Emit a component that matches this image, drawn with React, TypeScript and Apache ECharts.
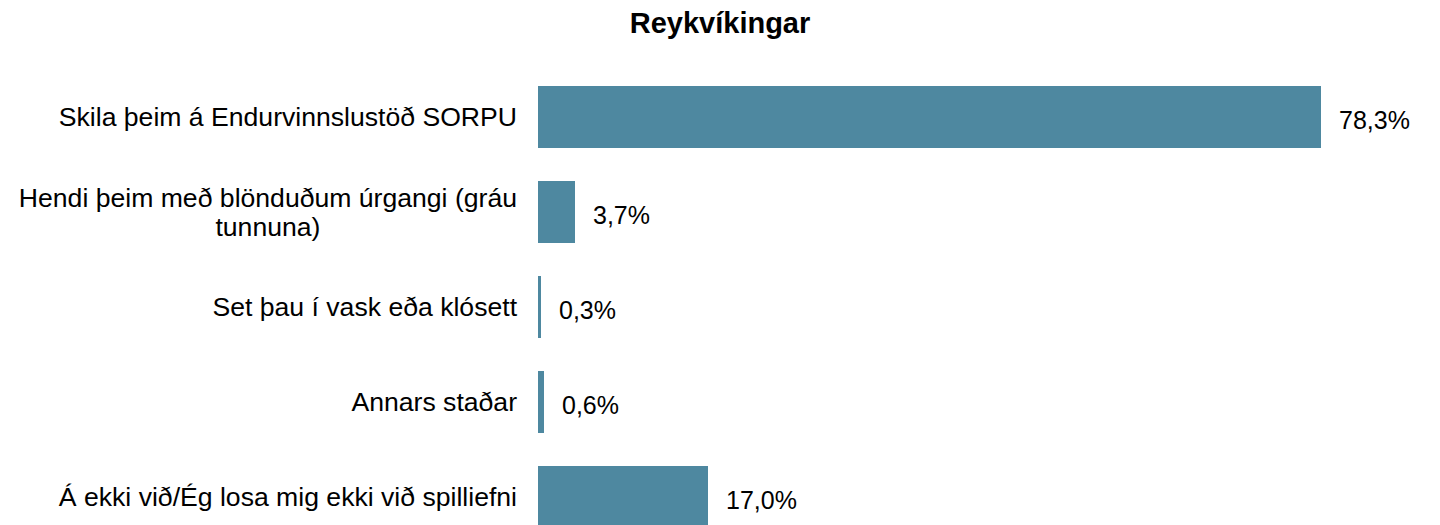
import React, { useEffect, useRef } from "react";
import * as echarts from "echarts";

const title = "Reykvíkingar";
const categories = [
  "Skila þeim á Endurvinnslustöð SORPU",
  "Hendi þeim með blönduðum úrgangi (gráu\ntunnuna)",
  "Set þau í vask eða klósett",
  "Annars staðar",
  "Á ekki við/Ég losa mig ekki við spilliefni",
];
const values = [78.3, 3.7, 0.3, 0.6, 17.0];

const FONT = "'Liberation Sans', Arial, sans-serif";

export default function App() {
  const ref = useRef<HTMLDivElement>(null);
  useEffect(() => {
    if (!ref.current) return;
    const chart = echarts.init(ref.current, undefined, { renderer: "svg" });
    chart.setOption({
      animation: false,
      backgroundColor: "#ffffff",
      title: {
        text: title,
        left: "center",
        top: 3,
        textStyle: { fontFamily: FONT, fontSize: 29, fontWeight: "bold", color: "#000" },
      },
      grid: {
        left: 538,
        right: 2,
        top: 69.5,
        height: 475,
        containLabel: false,
        outerBoundsMode: "none",
      },
      xAxis: { type: "value", min: 0, max: 90, show: false },
      yAxis: {
        type: "category",
        inverse: true,
        data: categories,
        axisLine: { show: false },
        axisTick: { show: false },
        splitLine: { show: false },
        axisLabel: {
          margin: 21,
          fontFamily: FONT,
          fontSize: 26.6,
          color: "#000",
          lineHeight: 29,
          formatter: (v: string) =>
            v
              .split("\n")
              .map((s) => "{c|" + s + "}")
              .join("\n"),
          rich: {
            c: { align: "center", fontFamily: FONT, fontSize: 26.6, color: "#000", lineHeight: 29 },
          },
        },
      },
      series: [
        {
          type: "bar",
          data: values,
          barWidth: 62,
          itemStyle: { color: "#4e88a0" },
          label: {
            show: true,
            position: "right",
            distance: 18,
            offset: [0, 3],
            fontFamily: FONT,
            fontSize: 25,
            color: "#000",
            formatter: (p: any) => p.value.toFixed(1).replace(".", ",") + "%",
          },
        },
      ],
    });
    return () => chart.dispose();
  }, []);
  return (
    <div
      ref={ref}
      style={{ position: "absolute", left: 0, top: 0, width: 1440, height: 525 }}
    />
  );
}
